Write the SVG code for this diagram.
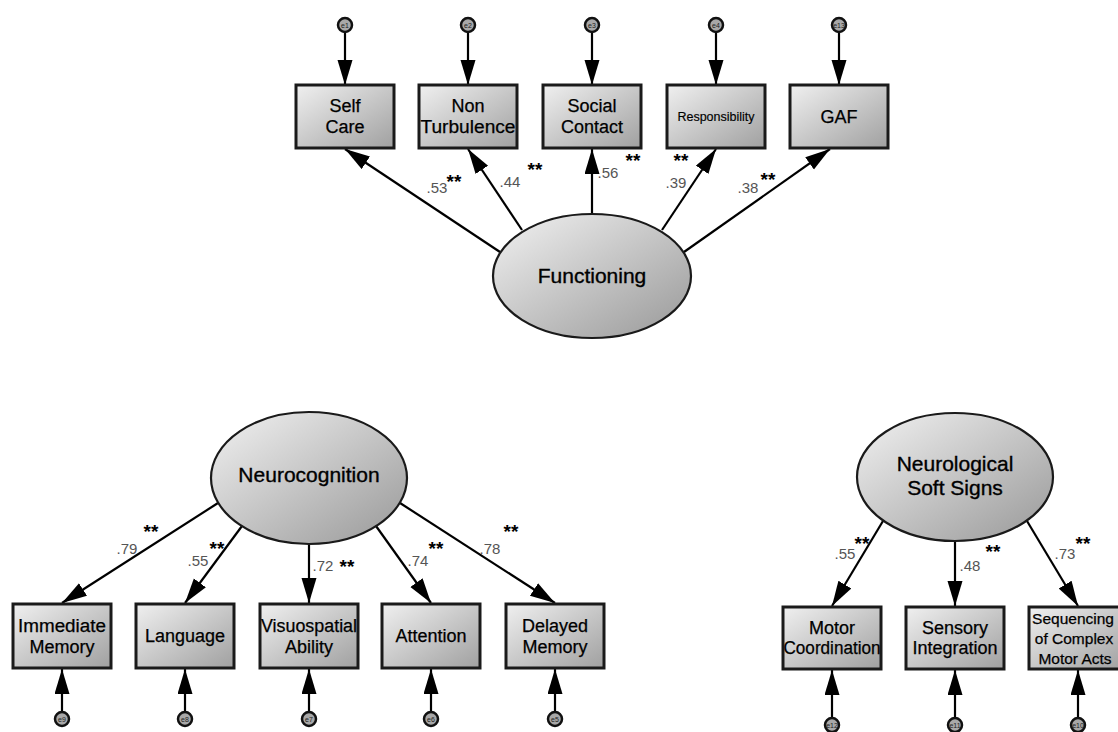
<svg xmlns="http://www.w3.org/2000/svg" width="1118" height="732" viewBox="0 0 1118 732">
<defs>
<linearGradient id="gb" x1="0" y1="0" x2="1" y2="1">
<stop offset="0" stop-color="#f0f0f0"/><stop offset="1" stop-color="#a0a0a0"/>
</linearGradient>
<linearGradient id="ge" x1="0" y1="0" x2="1" y2="1">
<stop offset="0" stop-color="#f2f2f2"/><stop offset="1" stop-color="#989898"/>
</linearGradient>
<marker id="ah" markerUnits="userSpaceOnUse" markerWidth="26" markerHeight="16" refX="25" refY="7.5" orient="auto">
<path d="M0,0 L25,7.5 L0,15 z" fill="#000"/>
</marker>
</defs>
<style>
.box{fill:url(#gb);stroke:#1a1a1a;stroke-width:3}
.lat{fill:url(#ge);stroke:#1a1a1a;stroke-width:2.2}
.err{fill:#a8a8a8;stroke:#111;stroke-width:2.5}
.bt{font-family:"Liberation Sans",Arial,sans-serif;font-size:18px;fill:#000;stroke:#000;stroke-width:0.25;text-anchor:middle}
.sq{font-family:"Liberation Sans",Arial,sans-serif;font-size:15.5px;fill:#000;stroke:#000;stroke-width:0.25;text-anchor:middle}
.lt{font-family:"Liberation Sans",Arial,sans-serif;font-size:21px;fill:#000;stroke:#000;stroke-width:0.35;text-anchor:middle}
.et{font-family:"Liberation Sans",Arial,sans-serif;font-size:7px;fill:#222;text-anchor:middle}
.cf{font-family:"Liberation Sans",Arial,sans-serif;font-size:15px;fill:#555;text-anchor:middle}
.st{font-family:"Liberation Sans",Arial,sans-serif;font-size:19px;font-weight:bold;fill:#000;text-anchor:middle}
.cn{stroke:#000;stroke-width:2.2;fill:none;marker-end:url(#ah)}
</style>
<g id="connectors">
<line class="cn" x1="345" y1="33" x2="345" y2="85"/>
<line class="cn" x1="468" y1="33" x2="468" y2="85"/>
<line class="cn" x1="592" y1="33" x2="592" y2="85"/>
<line class="cn" x1="716" y1="33" x2="716" y2="85"/>
<line class="cn" x1="839" y1="33" x2="839" y2="85"/>
<line class="cn" x1="500" y1="252" x2="345" y2="149"/>
<line class="cn" x1="522" y1="230" x2="468" y2="149"/>
<line class="cn" x1="592" y1="214" x2="592" y2="149"/>
<line class="cn" x1="662" y1="230" x2="716" y2="149"/>
<line class="cn" x1="684" y1="252" x2="830" y2="149"/>
<line class="cn" x1="218" y1="503" x2="62" y2="603"/>
<line class="cn" x1="242" y1="526" x2="185" y2="603"/>
<line class="cn" x1="309" y1="544" x2="309" y2="603"/>
<line class="cn" x1="376" y1="526" x2="431" y2="603"/>
<line class="cn" x1="400" y1="503" x2="555" y2="603"/>
<line class="cn" x1="62" y1="711" x2="62" y2="669"/>
<line class="cn" x1="185" y1="711" x2="185" y2="669"/>
<line class="cn" x1="309" y1="711" x2="309" y2="669"/>
<line class="cn" x1="431" y1="711" x2="431" y2="669"/>
<line class="cn" x1="555" y1="711" x2="555" y2="669"/>
<line class="cn" x1="883" y1="521" x2="832" y2="606"/>
<line class="cn" x1="955" y1="541" x2="955" y2="606"/>
<line class="cn" x1="1027" y1="521" x2="1078" y2="606"/>
<line class="cn" x1="832" y1="717" x2="832" y2="670"/>
<line class="cn" x1="955" y1="717" x2="955" y2="670"/>
<line class="cn" x1="1078" y1="717" x2="1078" y2="670"/>
</g>
<g id="labels">
<text class="cf" x="437" y="193">.53</text><text class="st" x="454" y="188">**</text>
<text class="cf" x="510" y="187">.44</text><text class="st" x="535" y="176">**</text>
<text class="cf" x="608" y="178">.56</text><text class="st" x="633" y="167">**</text>
<text class="st" x="681" y="167">**</text><text class="cf" x="676" y="188">.39</text>
<text class="cf" x="748" y="193">.38</text><text class="st" x="768" y="186">**</text>
<text class="cf" x="127" y="554">.79</text><text class="st" x="151" y="538">**</text>
<text class="cf" x="198" y="566">.55</text><text class="st" x="217" y="555">**</text>
<text class="cf" x="323" y="571">.72</text><text class="st" x="347" y="573">**</text>
<text class="cf" x="418" y="566">.74</text><text class="st" x="436" y="555">**</text>
<text class="cf" x="490" y="554">.78</text><text class="st" x="511" y="538">**</text>
<text class="cf" x="845" y="559">.55</text><text class="st" x="862" y="550">**</text>
<text class="cf" x="970" y="571">.48</text><text class="st" x="993" y="558">**</text>
<text class="cf" x="1065" y="559">.73</text><text class="st" x="1083" y="550">**</text>
</g>
<g id="e1"><circle class="err" cx="345" cy="25" r="7"/><text class="et" x="345" y="27.5">e1</text></g>
<g id="e2"><circle class="err" cx="468" cy="25" r="7"/><text class="et" x="468" y="27.5">e2</text></g>
<g id="e3"><circle class="err" cx="592" cy="25" r="7"/><text class="et" x="592" y="27.5">e3</text></g>
<g id="e4"><circle class="err" cx="716" cy="25" r="7"/><text class="et" x="716" y="27.5">e4</text></g>
<g id="e13"><circle class="err" cx="839" cy="25" r="7"/><text class="et" x="839" y="27.5">e13</text></g>
<g id="selfcare"><rect class="box" x="296" y="85" width="98" height="63"/><text class="bt" x="345" y="112">Self</text><text class="bt" x="345" y="133">Care</text></g>
<g id="nonturbulence"><rect class="box" x="419" y="85" width="98" height="63"/><text class="bt" x="468" y="112">Non</text><text class="bt" x="468" y="133" textLength="95" lengthAdjust="spacingAndGlyphs">Turbulence</text></g>
<g id="socialcontact"><rect class="box" x="543" y="85" width="98" height="63"/><text class="bt" x="592" y="112">Social</text><text class="bt" x="592" y="133">Contact</text></g>
<g id="responsibility"><rect class="box" x="667" y="85" width="98" height="63"/><text class="bt" x="716" y="121" style="font-size:12.5px;stroke-width:0.15">Responsibility</text></g>
<g id="gaf"><rect class="box" x="790" y="85" width="98" height="63"/><text class="bt" x="839" y="123">GAF</text></g>
<g id="functioning"><ellipse class="lat" cx="592" cy="276" rx="99" ry="62"/><text class="lt" x="592" y="283">Functioning</text></g>
<g id="neurocognition"><ellipse class="lat" cx="309" cy="478" rx="98" ry="66"/><text class="lt" x="309" y="482">Neurocognition</text></g>
<g id="nss"><ellipse class="lat" cx="955" cy="477" rx="98" ry="64"/><text class="lt" x="955" y="471">Neurological</text><text class="lt" x="955" y="495">Soft Signs</text></g>
<g id="immediate"><rect class="box" x="13" y="604" width="98" height="64"/><text class="bt" x="62" y="632" textLength="88" lengthAdjust="spacingAndGlyphs">Immediate</text><text class="bt" x="62" y="653">Memory</text></g>
<g id="language"><rect class="box" x="136" y="604" width="98" height="64"/><text class="bt" x="185" y="642">Language</text></g>
<g id="visuospatial"><rect class="box" x="260" y="604" width="98" height="64"/><text class="bt" x="309" y="632" textLength="96" lengthAdjust="spacingAndGlyphs">Visuospatial</text><text class="bt" x="309" y="653">Ability</text></g>
<g id="attention"><rect class="box" x="382" y="604" width="98" height="64"/><text class="bt" x="431" y="642">Attention</text></g>
<g id="delayed"><rect class="box" x="506" y="604" width="98" height="64"/><text class="bt" x="555" y="632">Delayed</text><text class="bt" x="555" y="653">Memory</text></g>
<g id="e9"><circle class="err" cx="62" cy="719" r="7"/><text class="et" x="62" y="721.5">e9</text></g>
<g id="e8"><circle class="err" cx="185" cy="719" r="7"/><text class="et" x="185" y="721.5">e8</text></g>
<g id="e7"><circle class="err" cx="309" cy="719" r="7"/><text class="et" x="309" y="721.5">e7</text></g>
<g id="e6"><circle class="err" cx="431" cy="719" r="7"/><text class="et" x="431" y="721.5">e6</text></g>
<g id="e5"><circle class="err" cx="555" cy="719" r="7"/><text class="et" x="555" y="721.5">e5</text></g>
<g id="motor"><rect class="box" x="783" y="607" width="98" height="62"/><text class="bt" x="832" y="634">Motor</text><text class="bt" x="832" y="654" textLength="97" lengthAdjust="spacingAndGlyphs">Coordination</text></g>
<g id="sensory"><rect class="box" x="906" y="607" width="98" height="62"/><text class="bt" x="955" y="634">Sensory</text><text class="bt" x="955" y="654">Integration</text></g>
<g id="sequencing"><rect class="box" x="1029" y="607" width="98" height="62"/><text class="sq" x="1073" y="624">Sequencing</text><text class="sq" x="1074" y="644">of Complex</text><text class="sq" x="1075" y="664">Motor Acts</text></g>
<g id="e12"><circle class="err" cx="832" cy="725" r="7"/><text class="et" x="832" y="727.5">e12</text></g>
<g id="e11"><circle class="err" cx="955" cy="725" r="7"/><text class="et" x="955" y="727.5">e11</text></g>
<g id="e10"><circle class="err" cx="1078" cy="725" r="7"/><text class="et" x="1078" y="727.5">e10</text></g>
</svg>
